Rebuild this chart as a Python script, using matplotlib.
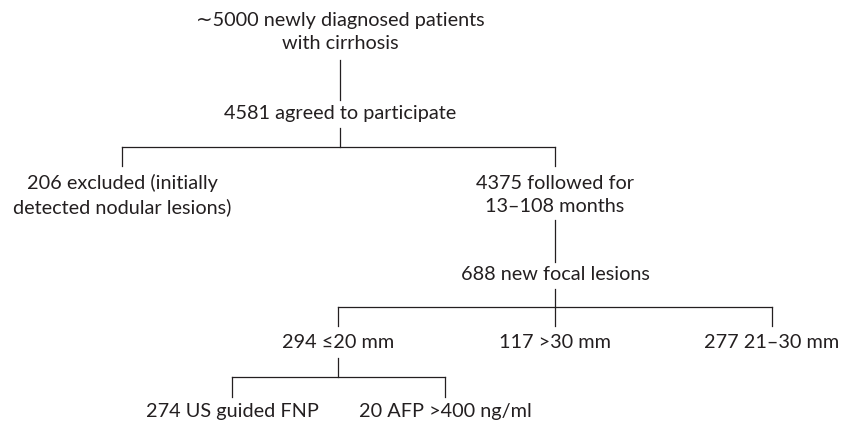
import matplotlib.pyplot as plt

# flowchart labels
top_label = "\u223c5000 newly diagnosed patients\nwith cirrhosis"
agreed_label = "4581 agreed to participate"
split_labels = ["206 excluded (initially\ndetected nodular lesions)",
                "4375 followed for\n13\u2013108 months"]
lesion_label = "688 new focal lesions"
size_labels = ["294 \u226420 mm", "117 >30 mm", "277 21\u201330 mm"]
small_labels = ["274 US guided FNP", "20 AFP >400 ng/ml"]

fig = plt.figure(figsize=(8.42, 4.22), dpi=100)
ax = fig.add_axes([0, 0, 1, 1])
ax.set_xlim(0, 842)
ax.set_ylim(422, 0)
ax.axis('off')

font = dict(family=['Lato', 'DejaVu Sans'], fontsize=14.3, color='#231f20',
            ha='center', va='center', linespacing=1.45)
lc = dict(color='#231f20', lw=0.9)


def vline(x, y0, y1):
    ax.plot([x, x], [y0, y1], **lc)


def bracket(stem_x, xs, y_top, y, y_bot):
    # stem from parent down to the bar, then drops to each child
    vline(stem_x, y_top, y)
    ax.plot([min(xs), max(xs)], [y, y], **lc)
    for x in xs:
        vline(x, y, y_bot)


ax.text(340, 32, top_label, **font)
vline(340, 60, 100)
ax.text(340, 113, agreed_label, **font)

split_x = [122, 555]
bracket(340, split_x, 128, 147, 166)
for x, lab in zip(split_x, split_labels):
    ax.text(x, 195, lab, **font)

vline(555, 220, 262)
ax.text(555, 274, lesion_label, **font)

size_x = [338, 555, 772]
bracket(555, size_x, 289, 307, 326)
for x, lab in zip(size_x, size_labels):
    ax.text(x, 342, lab, **font)

small_x = [232, 445]
bracket(338, small_x, 358, 377, 397)
for x, lab in zip(small_x, small_labels):
    ax.text(x, 412, lab, **font)

fig.savefig('out.png', dpi=100)
